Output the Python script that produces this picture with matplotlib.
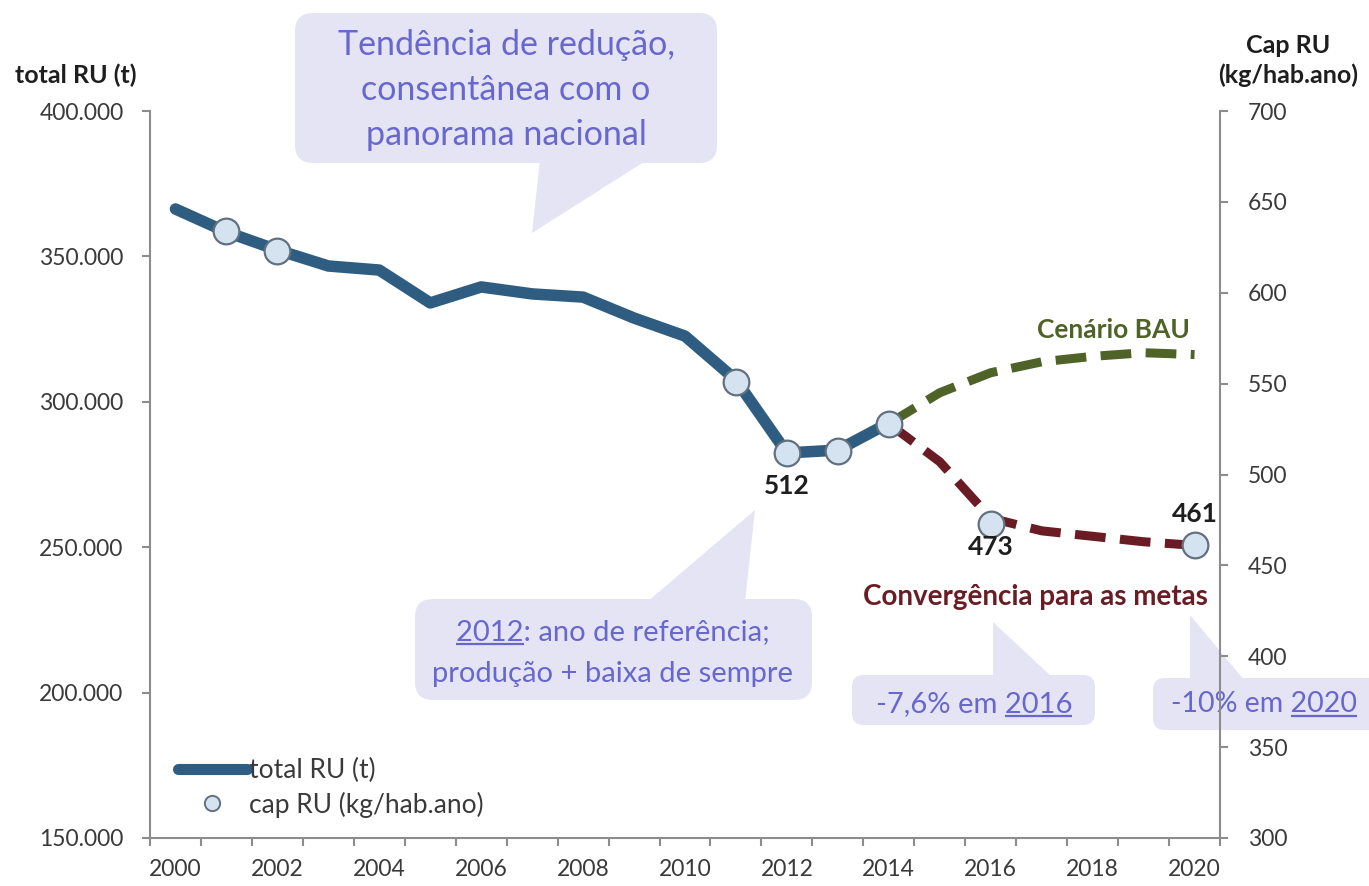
import matplotlib
matplotlib.use('Agg')
import matplotlib.pyplot as plt
from matplotlib.patches import FancyBboxPatch, Polygon
from matplotlib.lines import Line2D
from matplotlib.ticker import FuncFormatter, MultipleLocator

plt.rcParams['font.family'] = ['Lato', 'DejaVu Sans']

# data
years = list(range(2000, 2015))
total_ru = [366300, 358400, 352200, 346700, 345300, 334000, 339500, 337100,
            336000, 328800, 322600, 307500, 282400, 283400, 292700]

cap_years = [2001, 2002, 2011, 2012, 2013, 2014, 2016, 2020]
cap_ru = [634, 623, 551, 512, 513, 528, 473, 461]

proj_years = [2014, 2015, 2016, 2017, 2018, 2019, 2020]
bau = [528, 545, 556, 562, 565, 567, 566]
metas = [528, 507, 476, 469, 466, 463, 461]

BLUE = '#2f5d82'
OLIVE = '#4f6228'
DARKRED = '#6a1c24'
CIRC = '#d5e2f0'
CEDGE = '#62717f'
BUB = '#e4e4f4'
BTXT = '#6767cf'
GRID = '#8c8c8c'
TXT = '#3a3a3a'

W, H = 1369, 886
fig = plt.figure(figsize=(W / 100, H / 100), dpi=100)

# overlay in pixel coords for the callouts
ov = fig.add_axes([0, 0, 1, 1], zorder=-1)
ov.set_xlim(0, W)
ov.set_ylim(H, 0)
ov.axis('off')

ax = fig.add_axes([150 / W, 1 - 838 / H, (1220 - 150) / W, (838 - 111) / H])
ax.patch.set_alpha(0)
ax2 = ax.twinx()
ax2.patch.set_alpha(0)

# main line (left axis)
ax.plot(years, total_ru, color=BLUE, lw=8.3, solid_capstyle='round',
        solid_joinstyle='round', zorder=2)

# projections (right axis)
ax2.plot(proj_years, bau, color=OLIVE, lw=6.5, ls=(0, (3.4, 1.6)),
         dash_capstyle='butt', zorder=2)
ax2.plot(proj_years, metas, color=DARKRED, lw=6.5, ls=(0, (3.4, 1.6)),
         dash_capstyle='butt', zorder=2)
ax2.plot(cap_years, cap_ru, ls='none', marker='o', ms=18.5, mfc=CIRC,
         mec=CEDGE, mew=1.6, zorder=3)

# value labels (offset in px, + is up)
label_off = {2012: -33, 2016: -23, 2020: 31}
for yr, v in zip(cap_years, cap_ru):
    if yr in label_off:
        ax2.annotate(str(v), (yr, v), xytext=(0, label_off[yr] * 0.72),
                     textcoords='offset points', ha='center', va='center',
                     fontsize=19, fontweight='bold', color='#1e1e1e')

ax.set_xlim(1999.5, 2020.5)
ax.set_ylim(150000, 400000)
ax2.set_ylim(300, 700)

ax.yaxis.set_major_locator(MultipleLocator(50000))
ax.yaxis.set_major_formatter(FuncFormatter(lambda v, p: f'{int(v):,}'.replace(',', '.')))
ax2.yaxis.set_major_locator(MultipleLocator(50))

ax.set_xticks(range(2000, 2021, 2))
ax.set_xticks([y + 0.5 for y in range(1999, 2021)], minor=True)
ax.tick_params(axis='x', which='major', length=0, pad=15, labelsize=16.5, labelcolor=TXT)
ax.tick_params(axis='x', which='minor', length=6, width=1.5, color=GRID, direction='out')
ax.tick_params(axis='y', length=6, width=1.5, color=GRID, pad=13, labelsize=16.5, labelcolor=TXT)
ax2.tick_params(axis='y', length=6, width=1.5, color=GRID, pad=14, labelsize=16.5, labelcolor=TXT)

for s in ['top', 'right']:
    ax.spines[s].set_visible(False)
for s in ['top', 'left', 'bottom']:
    ax2.spines[s].set_visible(False)
for sp in [ax.spines['left'], ax.spines['bottom'], ax2.spines['right']]:
    sp.set_color(GRID)
    sp.set_linewidth(1.5)

# legend
handles = [Line2D([], [], color=BLUE, lw=8, solid_capstyle='round'),
           Line2D([], [], ls='none', marker='o', ms=11, mfc=CIRC, mec=CEDGE, mew=1.4)]
leg = ax2.legend(handles, ['total RU (t)', 'cap RU (kg/hab.ano)'], loc='upper left',
                 bbox_to_anchor=(178 / W, 1 - 758 / H), bbox_transform=fig.transFigure,
                 frameon=False, fontsize=19, handlelength=2.6, handletextpad=0.1,
                 borderpad=0, borderaxespad=0, labelspacing=0.32)
for t in leg.get_texts():
    t.set_color(TXT)

# axis titles and series notes
ov.text(15, 75, 'total RU (t)', fontsize=18, fontweight='bold', color='#1e1e1e',
        ha='left', va='center')
ov.text(1288, 45, 'Cap RU', fontsize=18, fontweight='bold', color='#1e1e1e',
        ha='center', va='center')
ov.text(1288, 75, '(kg/hab.ano)', fontsize=18, fontweight='bold', color='#1e1e1e',
        ha='center', va='center')
ov.text(1190, 330, 'Cenário BAU', fontsize=19, fontweight='bold',
        color=OLIVE, ha='right', va='center')
ov.text(1208, 597, 'Convergência para as metas', fontsize=20, fontweight='bold',
        color=DARKRED, ha='right', va='center')


def bubble(x0, y0, x1, y1, tail, r=18):
    ov.add_patch(FancyBboxPatch((x0, y0), x1 - x0, y1 - y0,
                                boxstyle=f'round,pad=0,rounding_size={r}',
                                fc=BUB, ec='none'))
    ov.add_patch(Polygon(tail, closed=True, fc=BUB, ec='none'))


bubble(295, 13, 717, 163, [(540, 160), (647, 160), (532, 233)])
bubble(415, 599, 812, 700, [(647, 602), (745, 602), (755, 510)])
bubble(852, 675, 1095, 725, [(993, 678), (993, 622), (1053, 678)], r=12)
bubble(1153, 678, 1390, 730, [(1190, 681), (1190, 615), (1245, 681)], r=12)

for txt, yb in [('Tendência de redução,', 55), ('consentânea com o', 100),
                ('panorama nacional', 145)]:
    ov.text(506, yb, txt, fontsize=24.5, color=BTXT, ha='center', va='baseline')

t2a = ov.text(613, 640, '2012: ano de referência;', fontsize=21, color=BTXT,
              ha='center', va='baseline')
ov.text(613, 682, 'produção + baixa de sempre', fontsize=21, color=BTXT,
        ha='center', va='baseline')
t3 = ov.text(974, 712, '-7,6% em 2016', fontsize=21, color=BTXT, ha='center', va='baseline')
t4 = ov.text(1264, 712, '-10% em 2020', fontsize=20.5, color=BTXT, ha='center', va='baseline')

# underline the years
renderer = fig.canvas.get_renderer()


def word_width(word, size):
    tmp = ov.text(0, 0, word, fontsize=size)
    w = tmp.get_window_extent(renderer).width
    tmp.remove()
    return w


for t, word, at_end in [(t2a, '2012', False), (t3, '2016', True), (t4, '2020', True)]:
    bb = t.get_window_extent(renderer)
    w = word_width(word, t.get_fontsize())
    x0 = bb.x1 - w if at_end else bb.x0
    yb = t.get_position()[1] + 4
    ov.plot([x0, x0 + w], [yb, yb], color=BTXT, lw=1.6, solid_capstyle='butt')

fig.savefig('out.png', dpi=100)
